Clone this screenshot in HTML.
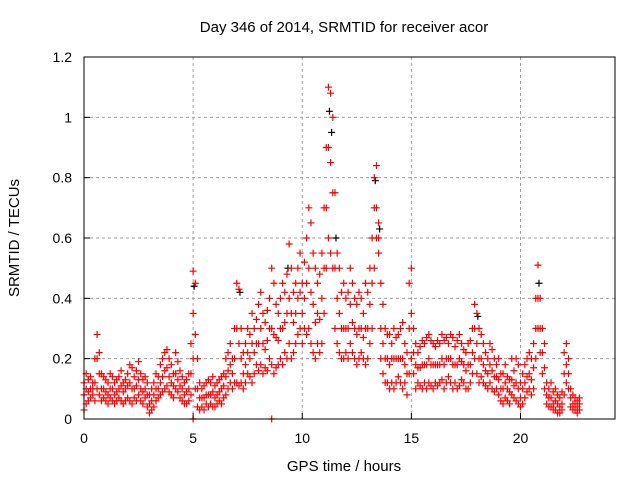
<!DOCTYPE html>
<html><head><meta charset="utf-8"><style>
body{margin:0;background:#fff;}
svg{display:block;font-family:"Liberation Sans",sans-serif;}
</style></head><body>
<svg id="chart" width="640" height="480">
<text x="344" y="32" font-size="15" text-anchor="middle">Day 346 of 2014, SRMTID for receiver acor</text>
<text x="344" y="471" font-size="15" text-anchor="middle">GPS time / hours</text>
<text transform="translate(19,238) rotate(-90)" font-size="15" text-anchor="middle">SRMTID / TECUs</text>
<g id="grid"></g><g id="marks"></g><g id="axes"></g>
</svg>
<script>
const hours=[0.0,0.1,0.2,0.3,0.4,0.5,0.6,0.7,0.8,0.9,1.0,1.1,1.2,1.3,1.4,1.5,1.6,1.7,1.8,1.9,2.0,2.1,2.2,2.3,2.4,2.5,2.6,2.7,2.8,2.9,3.0,3.1,3.2,3.3,3.4,3.5,3.6,3.7,3.8,3.9,4.0,4.1,4.2,4.3,4.4,4.5,4.6,4.7,4.8,4.9,5.0,5.1,5.2,5.3,5.4,5.5,5.6,5.7,5.8,5.9,6.0,6.1,6.2,6.3,6.4,6.5,6.6,6.7,6.8,6.9,7.0,7.1,7.2,7.3,7.4,7.5,7.6,7.7,7.8,7.9,8.0,8.1,8.2,8.3,8.4,8.5,8.6,8.7,8.8,8.9,9.0,9.1,9.2,9.3,9.4,9.5,9.6,9.7,9.8,9.9,10.0,10.1,10.2,10.3,10.4,10.5,10.6,10.7,10.8,10.9,11.0,11.1,11.2,11.3,11.4,11.5,11.6,11.7,11.8,11.9,12.0,12.1,12.2,12.3,12.4,12.5,12.6,12.7,12.8,12.9,13.0,13.1,13.2,13.3,13.4,13.5,13.6,13.7,13.8,13.9,14.0,14.1,14.2,14.3,14.4,14.5,14.6,14.7,14.8,14.9,15.0,15.1,15.2,15.3,15.4,15.5,15.6,15.7,15.8,15.9,16.0,16.1,16.2,16.3,16.4,16.5,16.6,16.7,16.8,16.9,17.0,17.1,17.2,17.3,17.4,17.5,17.6,17.7,17.8,17.9,18.0,18.1,18.2,18.3,18.4,18.5,18.6,18.7,18.8,18.9,19.0,19.1,19.2,19.3,19.4,19.5,19.6,19.7,19.8,19.9,20.0,20.1,20.2,20.3,20.4,20.5,20.6,20.7,20.8,20.9,21.0,21.1,21.2,21.3,21.4,21.5,21.6,21.7,21.8,21.9,22.0,22.1,22.2,22.3,22.4,22.5,22.6,22.7];
const hiVals=[.12,.15,.13,.14,.12,.2,.28,.22,.15,.14,.13,.12,.15,.14,.12,.13,.14,.16,.12,.13,.15,.18,.17,.14,.16,.19,.15,.13,.14,.12,.08,.1,.12,.15,.14,.18,.2,.22,.23,.2,.18,.15,.22,.19,.16,.14,.12,.13,.15,.25,.49,.45,.2,.12,.1,.11,.12,.13,.12,.14,.11,.12,.13,.14,.15,.2,.22,.25,.2,.3,.45,.43,.3,.22,.25,.3,.28,.35,.3,.33,.38,.42,.35,.32,.36,.4,.5,.45,.38,.35,.4,.45,.42,.48,.58,.5,.42,.45,.5,.55,.45,.52,.6,.7,.65,.55,.5,.45,.48,.55,.7,.9,1.1,1.08,1.0,.75,.55,.5,.42,.45,.4,.42,.5,.45,.4,.38,.42,.4,.35,.45,.42,.5,.6,.8,.84,.65,.45,.38,.3,.28,.28,.25,.3,.27,.28,.3,.32,.25,.22,.45,.5,.3,.25,.22,.24,.26,.25,.27,.28,.26,.25,.24,.26,.25,.28,.26,.27,.25,.28,.27,.24,.26,.28,.25,.23,.22,.25,.26,.3,.38,.35,.3,.28,.25,.22,.2,.25,.23,.2,.18,.2,.15,.15,.18,.14,.13,.2,.16,.2,.18,.12,.15,.18,.2,.22,.2,.25,.4,.51,.4,.3,.25,.12,.1,.12,.09,.1,.08,.07,.09,.22,.25,.2,.1,.08,.07,.06,.07];
const loVals=[.03,.05,.06,.07,.08,.06,.1,.08,.06,.07,.06,.05,.07,.06,.05,.06,.07,.06,.05,.06,.07,.06,.05,.07,.06,.08,.06,.05,.07,.04,.02,.03,.04,.06,.07,.08,.09,.1,.11,.09,.08,.07,.1,.09,.07,.06,.05,.05,.06,.08,.2,.1,.04,.03,.04,.03,.05,.04,.05,.04,.04,.05,.06,.05,.07,.08,.1,.12,.1,.12,.12,.11,.12,.1,.12,.15,.14,.12,.15,.18,.16,.18,.15,.17,.16,.2,.18,.15,.17,.18,.2,.18,.22,.2,.25,.2,.22,.25,.28,.3,.25,.3,.28,.3,.25,.22,.2,.25,.22,.25,.35,.5,.6,.55,.5,.3,.25,.22,.2,.2,.22,.2,.25,.22,.2,.18,.2,.22,.2,.18,.2,.25,.3,.5,.6,.55,.2,.15,.12,.12,.1,.12,.1,.12,.14,.12,.1,.12,.08,.15,.2,.15,.1,.12,.11,.1,.12,.1,.12,.11,.1,.12,.11,.12,.13,.1,.12,.14,.12,.1,.12,.1,.11,.13,.12,.1,.1,.12,.15,.2,.15,.12,.14,.12,.11,.1,.12,.1,.09,.1,.08,.06,.05,.07,.06,.05,.08,.07,.06,.05,.04,.05,.07,.09,.1,.08,.1,.2,.3,.22,.15,.1,.05,.04,.04,.03,.03,.02,.02,.03,.08,.12,.1,.04,.03,.03,.02,.03];
const midVals=[.08,.1,.09,.1,.1,.12,.2,.15,.1,.1,.09,.08,.1,.1,.08,.09,.1,.11,.09,.1,.11,.12,.1,.1,.11,.13,.1,.09,.1,.08,.05,.06,.08,.1,.1,.12,.14,.16,.17,.14,.12,.11,.15,.13,.11,.1,.08,.09,.1,.15,.35,.28,.1,.07,.07,.07,.08,.08,.08,.09,.07,.08,.09,.1,.11,.14,.16,.18,.15,.2,.3,.25,.2,.15,.18,.22,.2,.25,.22,.25,.25,.3,.25,.23,.26,.3,.3,.28,.27,.26,.3,.3,.32,.35,.4,.35,.32,.35,.4,.42,.35,.4,.45,.5,.42,.38,.32,.35,.33,.4,.5,.7,.9,.85,.75,.5,.4,.35,.3,.3,.3,.3,.38,.32,.3,.28,.3,.3,.27,.3,.3,.38,.45,.7,.7,.6,.3,.25,.2,.2,.18,.2,.2,.2,.2,.2,.2,.18,.15,.3,.35,.22,.18,.17,.17,.18,.18,.18,.2,.18,.18,.18,.18,.18,.2,.18,.2,.2,.2,.18,.18,.18,.2,.19,.18,.16,.18,.18,.22,.3,.25,.2,.2,.18,.16,.15,.18,.16,.14,.14,.13,.1,.1,.12,.1,.09,.13,.11,.12,.1,.07,.1,.12,.14,.15,.13,.17,.3,.4,.3,.22,.17,.08,.07,.07,.05,.06,.05,.04,.05,.15,.18,.15,.07,.05,.05,.04,.05];
const blackHours=[5.0,7.1,9.3,11.3,11.5,13.3,13.5,18.0,20.8,11.2];
const blackVals=[0.44,0.42,0.5,0.95,0.6,0.79,0.63,0.34,0.45,1.02];
const zeroHours=[5.0,8.6];
const zeroVals=[0,0];
const xTicks=[0,5,10,15,20];
const yTicks=[0,0.2,0.4,0.6,0.8,1,1.2];
const yTickLabels=["0","0.2","0.4","0.6","0.8","1","1.2"];

const L=84,R=615,T=57,B=419,XMAX=24.33,YMAX=1.2;
const xs=v=>L+v/XMAX*(R-L);
const ys=v=>B-v/YMAX*(B-T);
const NS="http://www.w3.org/2000/svg";
function mk(tag,attrs,parent){const e=document.createElementNS(NS,tag);for(const k in attrs)e.setAttribute(k,attrs[k]);parent.appendChild(e);return e;}
const grid=document.getElementById('grid'),marks=document.getElementById('marks'),axes=document.getElementById('axes');
yTicks.forEach((v,i)=>{
  if(v>0&&v<YMAX){const g=mk('line',{x1:L,x2:R,y1:ys(v),y2:ys(v),stroke:'#a0a0a0','stroke-dasharray':'3,3'},grid);
  
  }
  const t=mk('line',{x1:L,x2:L+6,y1:ys(v),y2:ys(v),stroke:'#000'},axes);
  
  
  const l=mk('text',{x:L-12,y:ys(v)+5,'font-size':14,'text-anchor':'end'},axes);l.textContent=yTickLabels[i];
  
  
});
xTicks.forEach(v=>{
  if(v>0){const g=mk('line',{x1:xs(v),x2:xs(v),y1:T,y2:B,stroke:'#a0a0a0','stroke-dasharray':'3,3'},grid);
  
  }
  const t=mk('line',{x1:xs(v),x2:xs(v),y1:B,y2:B-6,stroke:'#000'},axes);
  
  
  const l=mk('text',{x:xs(v),y:B+24,'font-size':14,'text-anchor':'middle'},axes);l.textContent=String(v);
  
  
});
const border=mk('rect',{x:L,y:T,width:R-L,height:B-T,fill:'none',stroke:'#000'},axes);


function plus(x,y,col,name){
  const p=mk('path',{d:`M${x-3.5},${y}h7M${x},${y-3.5}v7`,stroke:col,'stroke-width':1.2,fill:'none'},marks);
  
  
}
blackHours.forEach((h,i)=>plus(xs(h)+1,ys(blackVals[i]),'#000','black-point'));
[midVals,hiVals,loVals].forEach(arr=>hours.forEach((h,i)=>plus(xs(h),ys(arr[i]),'#ff0000','red-point')));
zeroHours.forEach((h,i)=>plus(xs(h),ys(zeroVals[i]),'#ff0000','red-point'));
</script>
</body></html>
